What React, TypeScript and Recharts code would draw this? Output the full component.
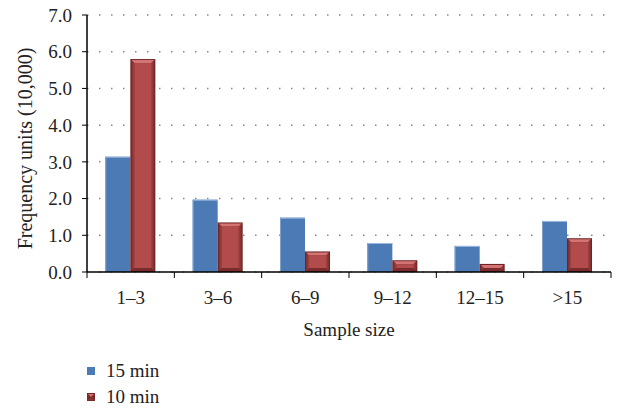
import React from 'react';
import {
  BarChart,
  Bar,
  XAxis,
  YAxis,
  CartesianGrid,
  Legend,
  Label,
} from 'recharts';

// Категории и значения
const categories = ['1–3', '3–6', '6–9', '9–12', '12–15', '>15'];
const min15 = [3.14, 1.97, 1.48, 0.79, 0.71, 1.39];
const min10 = [5.8, 1.35, 0.56, 0.32, 0.22, 0.92];
const yTicks = [0, 1, 2, 3, 4, 5, 6, 7];
const seriesNames = ['15 min', '10 min'];

const data = categories.map((name, i) => ({
  name,
  min15: min15[i],
  min10: min10[i],
}));

const FONT = 'Liberation Serif';
const WIDTH = 619;
const HEIGHT = 408;
const PLOT_LEFT = 87;
const PLOT_RIGHT = 8;
const PLOT_TOP = 15;
const PLOT_BOTTOM = 272;
const PLOT_WIDTH = WIDTH - PLOT_LEFT - PLOT_RIGHT;
const HALF_BAND = PLOT_WIDTH / categories.length / 2;

// Синий столбец: плоская заливка со светлой кромкой
const BlueBar = (props: any) => {
  const { x, y, width, height } = props;
  if (!height || height <= 0) return null;
  return (
    <g>
      <rect x={x} y={y} width={width} height={height} fill="#4B7AB4" />
      <line x1={x} y1={y + 0.5} x2={x + width} y2={y + 0.5} stroke="#9DB9DF" />
      <line x1={x + 0.5} y1={y} x2={x + 0.5} y2={y + height} stroke="#7FA0CC" />
    </g>
  );
};

// Красный столбец со скосом (bevel)
const RedBar = (props: any) => {
  const { x, y, width, height } = props;
  if (!height || height <= 0) return null;
  const b = Math.min(4, height / 2, width / 2);
  const x2 = x + width;
  const y2 = y + height;
  return (
    <g>
      <rect x={x} y={y} width={width} height={height} fill="#6E2424" />
      <polygon
        points={`${x + 1},${y + 1} ${x2 - 1},${y + 1} ${x2 - b},${y + b} ${x + b},${y + b}`}
        fill="#D57474"
      />
      <polygon
        points={`${x + 1},${y2 - 1} ${x2 - 1},${y2 - 1} ${x2 - b},${y2 - b} ${x + b},${y2 - b}`}
        fill="#7A2C2C"
      />
      <polygon
        points={`${x + 1},${y + 1} ${x + b},${y + b} ${x + b},${y2 - b} ${x + 1},${y2 - 1}`}
        fill="url(#redLeft)"
      />
      <polygon
        points={`${x2 - 1},${y + 1} ${x2 - b},${y + b} ${x2 - b},${y2 - b} ${x2 - 1},${y2 - 1}`}
        fill="url(#redRight)"
      />
      <rect
        x={x + b}
        y={y + b}
        width={Math.max(0, width - 2 * b)}
        height={Math.max(0, height - 2 * b)}
        fill="#B24C4C"
      />
    </g>
  );
};

// Подписи оси X с засечками между категориями
const XTick = (props: any) => {
  const { x, y, payload, index } = props;
  const last = index === categories.length - 1;
  return (
    <g>
      <line x1={x - HALF_BAND} y1={y} x2={x - HALF_BAND} y2={y + 6} stroke="#000" />
      {last && (
        <line x1={x + HALF_BAND} y1={y} x2={x + HALF_BAND} y2={y + 6} stroke="#000" />
      )}
      <text
        x={x}
        y={y + 25}
        textAnchor="middle"
        dominantBaseline="central"
        fill="#222"
        fontSize={19}
        fontFamily={FONT}
      >
        {payload.value}
      </text>
    </g>
  );
};

const LegendContent = () => (
  <div style={{ fontFamily: FONT, fontSize: 19, color: '#222', lineHeight: '26px' }}>
    {seriesNames.map((name, i) => (
      <div key={name} style={{ display: 'flex', alignItems: 'center' }}>
        <svg width={20} height={12} style={{ marginRight: 2 }}>
          {i === 0 ? (
            <rect x={3} y={2} width={8} height={8} fill="#4B7AB4" />
          ) : (
            <g>
              <rect x={3} y={2} width={8} height={8} fill="#7A2A2A" />
              <polygon points="4,3 10,3 7,6" fill="#D27070" />
              <polygon points="4,9 10,9 7,6" fill="#8E3535" />
            </g>
          )}
        </svg>
        <span>{name}</span>
      </div>
    ))}
  </div>
);

export default function App() {
  return (
    <div
      style={{
        position: 'absolute',
        left: 0,
        top: 0,
        width: WIDTH,
        height: HEIGHT,
        background: '#fff',
      }}
    >
      <BarChart
        width={WIDTH}
        height={HEIGHT}
        data={data}
        margin={{ top: PLOT_TOP, right: PLOT_RIGHT, left: 0, bottom: 61 }}
        barCategoryGap="21%"
        barGap={0}
      >
        <defs>
          <linearGradient id="redLeft" x1="0" y1="0" x2="1" y2="0">
            <stop offset="0%" stopColor="#7C2C2C" />
            <stop offset="100%" stopColor="#A24343" />
          </linearGradient>
          <linearGradient id="redRight" x1="0" y1="0" x2="1" y2="0">
            <stop offset="0%" stopColor="#A24343" />
            <stop offset="100%" stopColor="#7C2C2C" />
          </linearGradient>
        </defs>
        <CartesianGrid
          vertical={false}
          stroke="#8a8a8a"
          strokeWidth={1.5}
          strokeDasharray="1.5 10.5"
        />
        <XAxis
          dataKey="name"
          height={75}
          axisLine={{ stroke: '#000', strokeWidth: 1.5 }}
          tickLine={false}
          tickSize={0}
          tickMargin={0}
          tick={<XTick />}
          interval={0}
        >
          <Label
            content={() => (
              <text
                x={PLOT_LEFT + PLOT_WIDTH / 2}
                y={PLOT_BOTTOM + 57}
                textAnchor="middle"
                dominantBaseline="central"
                fill="#222"
                fontSize={19}
                fontFamily={FONT}
              >
                Sample size
              </text>
            )}
          />
        </XAxis>
        <YAxis
          width={PLOT_LEFT}
          domain={[0, 7]}
          ticks={yTicks}
          interval={0}
          tickFormatter={(v: number) => v.toFixed(1)}
          axisLine={{ stroke: '#000', strokeWidth: 1.5 }}
          tickLine={{ stroke: '#000' }}
          tickSize={5}
          tickMargin={10}
          tick={{ fill: '#222', fontSize: 19, fontFamily: FONT }}
        >
          <Label
            content={() => {
              const cx = 25;
              const cy = (PLOT_TOP + PLOT_BOTTOM) / 2 + 5;
              return (
                <text
                  x={cx}
                  y={cy}
                  transform={`rotate(-90, ${cx}, ${cy})`}
                  textAnchor="middle"
                  dominantBaseline="central"
                  fill="#222"
                  fontSize={20}
                  fontFamily={FONT}
                >
                  Frequency units (10,000)
                </text>
              );
            }}
          />
        </YAxis>
        <Legend
          layout="vertical"
          align="center"
          verticalAlign="middle"
          content={<LegendContent />}
          wrapperStyle={{ position: 'absolute', left: 84, top: 358, width: 120 }}
        />
        <Bar
          dataKey="min15"
          name={seriesNames[0]}
          shape={<BlueBar />}
          isAnimationActive={false}
        />
        <Bar
          dataKey="min10"
          name={seriesNames[1]}
          shape={<RedBar />}
          isAnimationActive={false}
        />
      </BarChart>
    </div>
  );
}
